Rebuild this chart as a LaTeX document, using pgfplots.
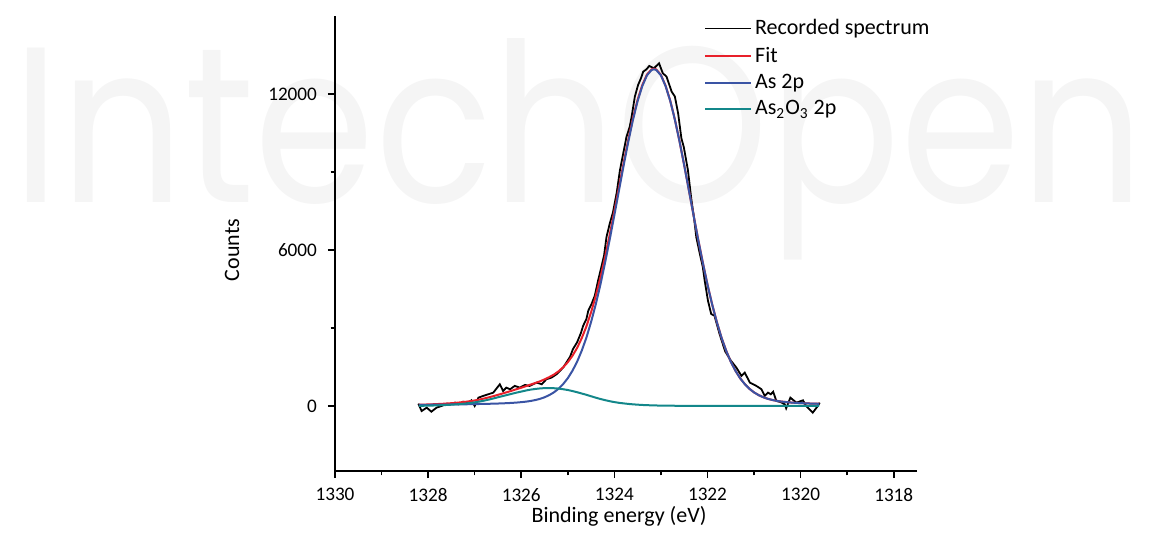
\documentclass[border=0pt]{standalone}
\usepackage{fontspec}
\setmainfont{Carlito}
\newfontfamily\wmfont{Poppins}
\usepackage{pgfplots}
\usepackage{pgfplotstable}
\pgfplotsset{compat=1.18}
\definecolor{fitred}{HTML}{E8202A}
\definecolor{asblue}{HTML}{3A54A4}
\definecolor{oxteal}{HTML}{13878A}

\pgfplotstableread{
x y
1328.21 90
1328.14 -193
1328.03 -64
1327.93 -219
1327.82 -64
1327.71 0
1327.60 90
1327.53 64
1327.42 129
1327.35 64
1327.25 167
1327.14 129
1327.07 219
1327.00 0
1326.92 321
1326.82 386
1326.71 450
1326.60 514
1326.46 836
1326.39 579
1326.32 707
1326.24 643
1326.14 772
1326.03 707
1325.92 810
1325.82 772
1325.67 900
1325.56 836
1325.46 1029
1325.35 1093
1325.24 1222
1325.10 1479
1325.03 1672
1324.95 1900
1324.89 2186
1324.80 2450
1324.72 2800
1324.67 3087
1324.60 3350
1324.56 3666
1324.49 3924
1324.42 4244
1324.35 4823
1324.28 5340
1324.22 5800
1324.17 6490
1324.10 7010
1324.03 7450
1323.95 8200
1323.88 9070
1323.81 9710
1323.74 10350
1323.67 10740
1323.63 11120
1323.56 11900
1323.49 12350
1323.43 12600
1323.38 12860
1323.31 12950
1323.25 13080
1323.15 12990
1323.04 13180
1322.96 12800
1322.88 12670
1322.77 12090
1322.70 11900
1322.63 11250
1322.56 10290
1322.51 9970
1322.42 9070
1322.35 8000
1322.29 7250
1322.24 6490
1322.17 5900
1322.10 5340
1322.06 4823
1321.99 4051
1321.92 3537
1321.85 3473
1321.74 2765
1321.62 2100
1321.50 1750
1321.38 1479
1321.27 1158
1321.20 1286
1321.09 900
1320.95 772
1320.84 643
1320.77 386
1320.70 514
1320.64 450
1320.59 550
1320.52 193
1320.43 150
1320.34 64
1320.31 -90
1320.22 321
1320.09 129
1319.95 219
1319.88 0
1319.74 -257
1319.63 0
1319.59 129
}\recorded

\pgfplotstableread{
x y
1328.2 49
1328.1 54
1328.0 60
1327.9 67
1327.8 75
1327.7 84
1327.6 96
1327.5 108
1327.4 122
1327.3 141
1327.2 161
1327.1 184
1327.0 213
1326.9 247
1326.8 286
1326.7 330
1326.6 379
1326.5 430
1326.4 482
1326.3 535
1326.2 590
1326.1 647
1326.0 703
1325.9 762
1325.8 823
1325.7 883
1325.6 948
1325.5 1023
1325.4 1109
1325.3 1207
1325.2 1332
1325.1 1488
1325.0 1685
1324.9 1931
1324.8 2234
1324.7 2611
1324.6 3063
1324.5 3607
1324.4 4226
1324.3 4936
1324.2 5733
1324.1 6586
1324.0 7493
1323.9 8422
1323.8 9358
1323.7 10252
1323.6 11074
1323.5 11784
1323.4 12345
1323.3 12750
1323.2 12949
1323.15 12972
1323.1 12944
1323.0 12734
1322.9 12318
1322.8 11744
1322.7 11019
1322.6 10180
1322.5 9265
1322.4 8306
1322.3 7348
1322.2 6405
1322.1 5512
1322.0 4669
1321.9 3909
1321.8 3234
1321.7 2635
1321.6 2133
1321.5 1706
1321.4 1358
1321.3 1072
1321.2 845
1321.1 664
1321.0 524
1320.9 418
1320.8 336
1320.7 274
1320.6 229
1320.5 194
1320.4 168
1320.3 149
1320.2 133
1320.1 121
1320.0 111
1319.9 103
1319.8 96
1319.7 90
1319.6 86
}\fit

\pgfplotstableread{
x y
1328.2 43
1328.1 45
1328.0 47
1327.9 49
1327.8 51
1327.7 53
1327.6 56
1327.5 58
1327.4 60
1327.3 63
1327.2 66
1327.1 69
1327.0 73
1326.9 77
1326.8 81
1326.7 85
1326.6 89
1326.5 95
1326.4 102
1326.3 110
1326.2 120
1326.1 132
1326.0 148
1325.9 167
1325.8 193
1325.7 228
1325.6 273
1325.5 335
1325.4 417
1325.3 523
1325.2 662
1325.1 843
1325.0 1070
1324.9 1356
1324.8 1704
1324.7 2131
1324.6 2633
1324.5 3232
1324.4 3906
1324.3 4666
1324.2 5508
1324.1 6401
1324.0 7343
1323.9 8300
1323.8 9258
1323.7 10172
1323.6 11010
1323.5 11733
1323.4 12305
1323.3 12718
1323.2 12924
1323.15 12950
1323.1 12924
1323.0 12718
1322.9 12305
1322.8 11733
1322.7 11010
1322.6 10172
1322.5 9258
1322.4 8300
1322.3 7343
1322.2 6401
1322.1 5508
1322.0 4666
1321.9 3906
1321.8 3232
1321.7 2633
1321.6 2131
1321.5 1704
1321.4 1356
1321.3 1070
1321.2 843
1321.1 662
1321.0 523
1320.9 417
1320.8 335
1320.7 273
1320.6 228
1320.5 193
1320.4 167
1320.3 148
1320.2 132
1320.1 120
1320.0 110
1319.9 102
1319.8 95
1319.7 89
1319.6 85
}\astwop

\pgfplotstableread{
x y
1328.2 6
1328.1 9
1328.0 13
1327.9 18
1327.8 24
1327.7 31
1327.6 40
1327.5 50
1327.4 62
1327.3 78
1327.2 95
1327.1 115
1327.0 140
1326.9 170
1326.8 205
1326.7 245
1326.6 290
1326.5 335
1326.4 380
1326.3 425
1326.2 470
1326.1 515
1326.0 555
1325.9 595
1325.8 630
1325.7 655
1325.6 675
1325.5 688
1325.4 692
1325.3 684
1325.2 670
1325.1 645
1325.0 615
1324.9 575
1324.8 530
1324.7 480
1324.6 430
1324.5 375
1324.4 320
1324.3 270
1324.2 225
1324.1 185
1324.0 150
1323.9 122
1323.8 100
1323.7 80
1323.6 64
1323.5 51
1323.4 40
1323.3 32
1323.2 25
1323.1 20
1323.0 16
1322.8 11
1322.6 8
1322.4 6
1322.2 4
1322.0 3
1321.5 2
1321.0 1
1320.0 0
1319.6 0
}\oxide

\begin{document}
\begin{tikzpicture}[x=1pt,y=1pt]
\path[use as bounding box] (0,0) rectangle (574.5,270);
\node[anchor=base west, inner sep=0pt, text=black!4] at (6,168.5) {\resizebox{566pt}{82pt}{\wmfont IntechOpen}};
\begin{axis}[
  at={(167.5pt,34.5pt)}, anchor=south west,
  scale only axis, width=291pt, height=227.5pt,
  xmin=1317.5, xmax=1330, ymin=-2500, ymax=15000,
  x dir=reverse,
  axis x line*=bottom, axis y line*=left,
  xtick={1318,1320,1322,1324,1326,1328,1330},
  ytick={0,6000,12000},
  scaled y ticks=false, scaled x ticks=false,
  minor x tick num=1, minor y tick num=1,
  tick align=outside,
  major tick length=3.5pt, minor tick length=2.2pt,
  every tick/.style={black, line width=0.8pt},
  axis line style={black, line width=0.8pt},
  tick label style={font=\fontsize{9.6}{11}\selectfont},
  xticklabel style={yshift=-1.5pt},
  yticklabel style={xshift=-2pt},
  /pgf/number format/assume math mode=true,
  /pgf/number format/1000 sep={},
  legend cell align=left,
  legend style={at={(axis cs:1322.08,15000)}, anchor=north west, draw=none, fill=none,
    font=\fontsize{11}{12}\selectfont, row sep=1.6pt, inner sep=0pt,
    nodes={inner sep=1.5pt}},
  legend image code/.code={\draw[#1] (0pt,0pt) -- (23pt,0pt);},
]
\addplot[black, line width=0.9pt] table {\recorded};
\addlegendentry{Recorded spectrum}
\addplot[fitred, line width=1pt] table {\fit};
\addlegendentry{Fit}
\addplot[asblue, line width=1pt] table {\astwop};
\addlegendentry{As 2p}
\addplot[oxteal, line width=1pt] table {\oxide};
\addlegendentry{As\textsubscript{2}O\textsubscript{3} 2p}
\end{axis}
\node[rotate=90, font=\fontsize{11}{12}\selectfont] at (116,145) {Counts};
\node[font=\fontsize{11}{12}\selectfont] at (309.5,12) {Binding energy (eV)};
\end{tikzpicture}
\end{document}
